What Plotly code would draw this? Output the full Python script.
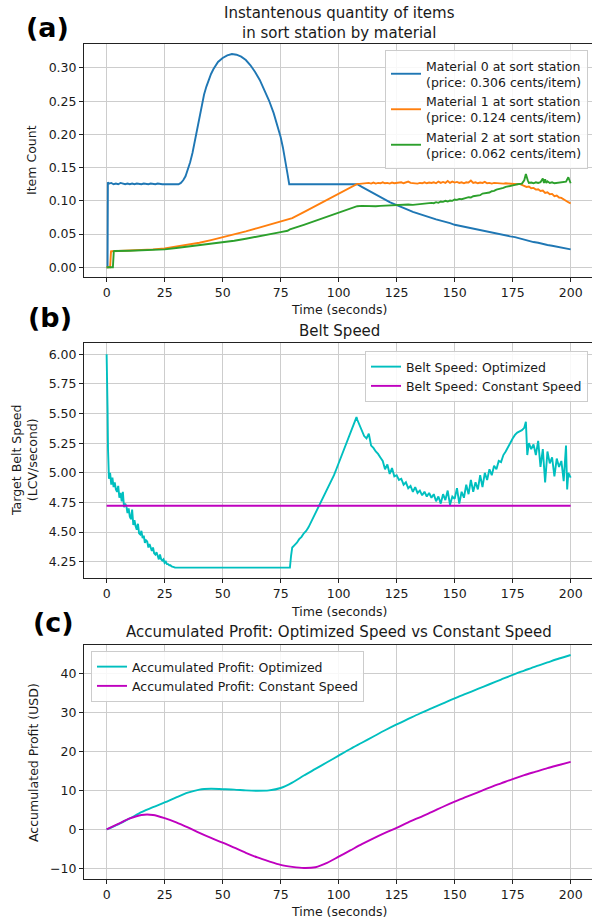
import plotly.graph_objects as go

# ---------------- Panel (a): instantaneous item counts ----------------
m0_time = ([0, 0.4, 0.55] + list(range(1, 32)) + list(range(32, 49))
           + [50, 52, 54, 56, 58, 60, 62, 64, 66, 68, 70, 72, 74, 75, 76, 77, 78, 78.7]
           + list(range(108, 201, 2)))
m0_count = ([0, 0, 0.128]
            + [0.126, 0.127, 0.125, 0.126, 0.125, 0.127, 0.126, 0.125, 0.126, 0.125,
               0.126, 0.125, 0.126, 0.125, 0.125, 0.126, 0.125, 0.125, 0.126, 0.125,
               0.125, 0.126, 0.125, 0.125, 0.125, 0.125, 0.125, 0.125, 0.125, 0.125, 0.125]
            + [0.127, 0.131, 0.137, 0.146, 0.158, 0.172, 0.190, 0.209, 0.228, 0.245,
               0.260, 0.272, 0.282, 0.291, 0.298, 0.304, 0.309]
            + [0.315, 0.319, 0.321, 0.320, 0.317, 0.312, 0.304, 0.294, 0.282, 0.267,
               0.251, 0.232, 0.209, 0.196, 0.180, 0.162, 0.140, 0.125]
            + [0.125, 0.121, 0.117, 0.113, 0.109, 0.105, 0.1015, 0.098, 0.095, 0.0925,
               0.089, 0.0865, 0.0835, 0.0815, 0.0785, 0.0765, 0.0745, 0.072, 0.0705, 0.068,
               0.0665, 0.064, 0.0625, 0.061, 0.0595, 0.0575, 0.0565, 0.055, 0.0535, 0.052,
               0.0505, 0.0495, 0.048, 0.0465, 0.0455, 0.0435, 0.0415, 0.040, 0.038, 0.037,
               0.035, 0.0335, 0.0325, 0.031, 0.030, 0.0285, 0.027])

m1_time = ([0, 1.5, 1.9, 2.2] + list(range(5, 76, 5))
           + [77, 78, 80, 85, 90, 95, 100, 105, 108] + list(range(109, 201)))
m1_count = ([0, 0, 0.024, 0.0242]
            + [0.0245, 0.025, 0.026, 0.027, 0.0285, 0.031, 0.034, 0.037, 0.041, 0.045,
               0.050, 0.054, 0.059, 0.064, 0.069]
            + [0.070, 0.072, 0.074, 0.083, 0.092, 0.101, 0.110, 0.119, 0.1255]
            + [0.1255, 0.126, 0.1265, 0.126, 0.127, 0.126, 0.1275, 0.126, 0.127, 0.1265,
               0.128, 0.1265, 0.127, 0.126, 0.1275, 0.1265, 0.127, 0.1265, 0.128, 0.1265,
               0.1275, 0.129, 0.127, 0.1265, 0.127, 0.126, 0.127, 0.1265, 0.128, 0.1265,
               0.1275, 0.127, 0.128, 0.1265, 0.129, 0.127, 0.1285, 0.127, 0.130, 0.127,
               0.129, 0.1275, 0.1285, 0.127, 0.128, 0.1265, 0.128, 0.1275, 0.1305, 0.127,
               0.128, 0.1265, 0.1275, 0.127, 0.1285, 0.1265, 0.127, 0.126, 0.127, 0.1265,
               0.126, 0.1265, 0.126, 0.1265, 0.126, 0.1255, 0.126, 0.1255, 0.125, 0.1255,
               0.124, 0.123, 0.121, 0.1215, 0.119, 0.1195, 0.117, 0.1175, 0.115, 0.1155,
               0.112, 0.113, 0.110, 0.1105, 0.107, 0.108, 0.105, 0.1045, 0.102, 0.1005,
               0.098, 0.096])

m2_time = ([0, 2.7, 3.1, 3.5] + list(range(10, 76, 5))
           + [78, 79, 85, 90, 95, 100, 105, 108] + list(range(110, 139, 2)) + list(range(140, 180))
           + [180, 180.7, 181.5, 182, 183, 184, 185, 186, 187, 188, 188.5, 189, 189.5,
              190, 191, 192, 193, 194, 195, 196, 197, 198, 199, 199.5, 200])
m2_count = ([0, 0, 0.0242, 0.0245]
            + [0.025, 0.0255, 0.026, 0.027, 0.029, 0.031, 0.033, 0.035, 0.0375, 0.040,
               0.043, 0.046, 0.050, 0.053]
            + [0.055, 0.057, 0.064, 0.070, 0.076, 0.082, 0.088, 0.092]
            + [0.0925, 0.092, 0.0925, 0.092, 0.0925, 0.093, 0.0925, 0.093, 0.0935, 0.094,
               0.0945, 0.094, 0.095, 0.0955, 0.096]
            + [0.097, 0.0965, 0.098, 0.097, 0.099, 0.0985, 0.100, 0.099, 0.1005, 0.100,
               0.102, 0.1015, 0.103, 0.1025, 0.104, 0.1045, 0.1055, 0.105, 0.107, 0.1075,
               0.109, 0.1085, 0.111, 0.1115, 0.113, 0.1125, 0.1145, 0.115, 0.117, 0.1175,
               0.119, 0.1195, 0.121, 0.1215, 0.1225, 0.1235, 0.124, 0.125, 0.1255, 0.126]
            + [0.131, 0.1405, 0.131, 0.127, 0.1275, 0.1265, 0.128, 0.127, 0.128, 0.1335,
               0.127, 0.1325, 0.127, 0.1295, 0.127, 0.128, 0.1265, 0.127, 0.1265, 0.127,
               0.1275, 0.129, 0.1355, 0.130, 0.1265])

m_names = ["Material 0 at sort station<br>(price: 0.306 cents/item)",
           "Material 1 at sort station<br>(price: 0.124 cents/item)",
           "Material 2 at sort station<br>(price: 0.062 cents/item)"]

# ---------------- Panel (b): belt speed ----------------
opt_time = ([0, 0.2, 0.4, 0.6, 0.8] + [1 + 0.5 * i for i in range(59)]
            + [79, 79.5] + list(range(80, 108)) + [107.7] + list(range(108, 181))
            + [180.7, 181.3] + list(range(182, 199)) + [198.5, 199, 200])
opt_speed = ([6.00, 5.85, 5.55, 5.20, 5.02]
             + [4.95, 5.00, 4.90, 4.96, 4.88, 4.92, 4.86, 4.84, 4.89, 4.79,
                4.83, 4.76, 4.84, 4.71, 4.74, 4.72, 4.66, 4.70, 4.63, 4.61,
                4.69, 4.56, 4.60, 4.55, 4.52, 4.57, 4.49, 4.48, 4.51, 4.45,
                4.47, 4.41, 4.43, 4.42, 4.37, 4.40, 4.36, 4.34, 4.37, 4.32,
                4.31, 4.33, 4.30, 4.27, 4.31, 4.27, 4.26, 4.27, 4.24, 4.25,
                4.23, 4.23, 4.22, 4.22, 4.21, 4.21, 4.205, 4.20, 4.20]
             + [4.20, 4.30]
             + [4.37, 4.39, 4.41, 4.44, 4.46, 4.49, 4.51, 4.54, 4.58, 4.61,
                4.65, 4.69, 4.73, 4.77, 4.81, 4.85, 4.89, 4.94, 4.98, 5.03,
                5.08, 5.13, 5.18, 5.23, 5.28, 5.33, 5.38, 5.43]
             + [5.47]
             + [5.45, 5.40, 5.36, 5.31, 5.29, 5.33, 5.23, 5.21, 5.18, 5.16,
                5.13, 5.10, 5.03, 5.07, 4.99, 5.04, 4.97, 4.98, 4.94, 4.95,
                4.90, 4.92, 4.87, 4.89, 4.84, 4.88, 4.83, 4.85, 4.81, 4.84,
                4.80, 4.83, 4.79, 4.82, 4.76, 4.80, 4.74, 4.82, 4.77, 4.85,
                4.73, 4.80, 4.78, 4.87, 4.74, 4.84, 4.79, 4.90, 4.82, 4.94,
                4.84, 4.92, 4.86, 4.98, 4.88, 5.00, 4.94, 5.03, 4.98, 5.06,
                5.03, 5.10, 5.09, 5.15, 5.18, 5.22, 5.26, 5.29, 5.32, 5.34,
                5.35, 5.36, 5.38]
             + [5.43, 5.15]
             + [5.25, 5.20, 5.24, 5.15, 5.27, 5.05, 5.20, 4.92, 5.18, 5.08,
                5.13, 4.97, 5.12, 5.05, 5.10, 4.93, 5.23]
             + [4.86, 5.00, 4.96])
const_time = [0, 200]
const_speed = [4.722, 4.722]

# ---------------- Panel (c): accumulated profit ----------------
profit_time = list(range(0, 201, 5))
profit_opt = [0, 1.3, 2.8, 4.4, 5.7, 6.9, 8.2, 9.4, 10.2, 10.4, 10.3, 10.2, 10.0, 9.9,
              10.0, 10.6, 12.0, 13.8, 15.5, 17.2, 18.9, 20.6, 22.2, 23.8, 25.4, 26.9,
              28.3, 29.7, 31.0, 32.3, 33.6, 34.8, 36.0, 37.2, 38.4, 39.6, 40.7, 41.8,
              42.8, 43.8, 44.7]
profit_const = [0, 1.4, 2.8, 3.7, 3.7, 2.9, 1.8, 0.5, -0.9, -2.2, -3.4, -4.7, -6.0, -7.2,
                -8.2, -9.1, -9.6, -9.9, -9.7, -8.6, -7.0, -5.4, -3.8, -2.3, -0.9, 0.4,
                1.8, 3.1, 4.4, 5.8, 7.1, 8.3, 9.5, 10.7, 11.8, 12.9, 13.9, 14.8, 15.7,
                16.5, 17.3]

time_ticks = [0, 25, 50, 75, 100, 125, 150, 175, 200]

for a, b in [(m0_time, m0_count), (m1_time, m1_count), (m2_time, m2_count),
             (opt_time, opt_speed), (profit_time, profit_opt), (profit_time, profit_const)]:
    assert len(a) == len(b), (len(a), len(b))

# ---------------- figure ----------------
W, H = 592, 921
FONT = "DejaVu Sans"
TXT = "#1a1a1a"


def px(x):
    return x / W


def py(y):
    return 1 - y / H


LW = 1.9
fig = go.Figure()
for t, v, name, col in [(m0_time, m0_count, m_names[0], "#1f77b4"),
                        (m1_time, m1_count, m_names[1], "#ff7f0e"),
                        (m2_time, m2_count, m_names[2], "#2ca02c")]:
    fig.add_trace(go.Scatter(x=t, y=v, mode="lines", name=name, line=dict(color=col, width=LW),
                             xaxis="x", yaxis="y", legend="legend"))

fig.add_trace(go.Scatter(x=opt_time, y=opt_speed, mode="lines", name="Belt Speed: Optimized",
                         line=dict(color="#00bfbf", width=LW), xaxis="x2", yaxis="y2", legend="legend2"))
fig.add_trace(go.Scatter(x=const_time, y=const_speed, mode="lines", name="Belt Speed: Constant Speed",
                         line=dict(color="#bf00bf", width=LW), xaxis="x2", yaxis="y2", legend="legend2"))

fig.add_trace(go.Scatter(x=profit_time, y=profit_opt, mode="lines", name="Accumulated Profit: Optimized",
                         line=dict(color="#00bfbf", width=LW, shape="spline", smoothing=0.8),
                         xaxis="x3", yaxis="y3", legend="legend3"))
fig.add_trace(go.Scatter(x=profit_time, y=profit_const, mode="lines", name="Accumulated Profit: Constant Speed",
                         line=dict(color="#bf00bf", width=LW, shape="spline", smoothing=0.8),
                         xaxis="x3", yaxis="y3", legend="legend3"))

x_dom = [px(84), 1.0]
x_rng = [-9.75, 209.2]
tickfont = dict(family=FONT, size=12.5, color=TXT)


def xaxis(anchor):
    return dict(domain=x_dom, range=x_rng, anchor=anchor, tickvals=time_ticks,
                ticks="outside", ticklen=4, tickwidth=1, tickcolor="#222",
                showline=True, linecolor="#222", linewidth=1, mirror=True,
                showgrid=True, gridcolor="#cdcdcd", gridwidth=1.3, zeroline=False,
                tickfont=tickfont, automargin=False)


def yaxis(anchor, dom, rng, tv, fmt):
    return dict(domain=dom, range=rng, anchor=anchor, tickvals=tv, tickformat=fmt,
                ticks="outside", ticklen=4, tickwidth=1, tickcolor="#222",
                showline=True, linecolor="#222", linewidth=1, mirror=False,
                showgrid=True, gridcolor="#cdcdcd", gridwidth=1.3, zeroline=False,
                tickfont=tickfont, automargin=False)


legend_common = dict(bgcolor="rgba(255,255,255,0.85)", bordercolor="#cccccc", borderwidth=1,
                     font=dict(family=FONT, size=12.5, color=TXT), tracegroupgap=0,
                     itemwidth=30, yanchor="top")

annotations = []


def text(x, y, s, size=12.5, angle=0, bold=False, family=FONT):
    annotations.append(dict(x=px(x), y=py(y), xref="paper", yref="paper", text=s,
                            showarrow=False, textangle=angle, xanchor="center", yanchor="middle",
                            font=dict(family=family, size=size, color="#000" if bold else TXT,
                                      weight="bold" if bold else "normal")))


# titles
text(339, 23, "Instantenous quantity of items<br>in sort station by material", 15)
text(339, 331, "Belt Speed", 15)
text(339, 632, "Accumulated Profit: Optimized Speed vs Constant Speed", 15)
# x labels
for yy in (310, 611, 911):
    text(339, yy, "Time (seconds)")
# y labels
text(32, 160, "Item Count", angle=-90)
text(24, 461, "Target Belt Speed<br>(LCV/second)", angle=-90)
text(33, 763, "Accumulated Profit (USD)", angle=-90)
# panel labels
text(47, 27, "(a)", 27, bold=True)
text(50, 318, "(b)", 27, bold=True)
text(53, 622, "(c)", 27, bold=True)

fig.update_layout(
    width=W, height=H, margin=dict(l=0, r=0, t=0, b=0),
    paper_bgcolor="white", plot_bgcolor="white", showlegend=True,
    xaxis=xaxis("y"), xaxis2=xaxis("y2"), xaxis3=xaxis("y3"),
    yaxis=yaxis("x", [py(277), py(44)], [-0.0146, 0.3361],
                [0, 0.05, 0.10, 0.15, 0.20, 0.25, 0.30], ".2f"),
    yaxis2=yaxis("x2", [py(578.3), py(343.3)], [4.110, 6.093],
                 [4.25, 4.50, 4.75, 5.00, 5.25, 5.50, 5.75, 6.00], ".2f"),
    yaxis3=yaxis("x3", [py(879), py(645)], [-12.72, 47.26],
                 [-10, 0, 10, 20, 30, 40], "d"),
    legend=dict(x=px(588), y=py(50), xanchor="right", **legend_common),
    legend2=dict(x=px(588), y=py(351), xanchor="right", **legend_common),
    legend3=dict(x=px(91), y=py(651), xanchor="left", **legend_common),
    annotations=annotations,
    font=dict(family=FONT, color=TXT),
)

fig.write_html("out.html", config={"displayModeBar": False},
               post_script="document.body.style.margin='0';document.body.style.overflow='hidden';")
